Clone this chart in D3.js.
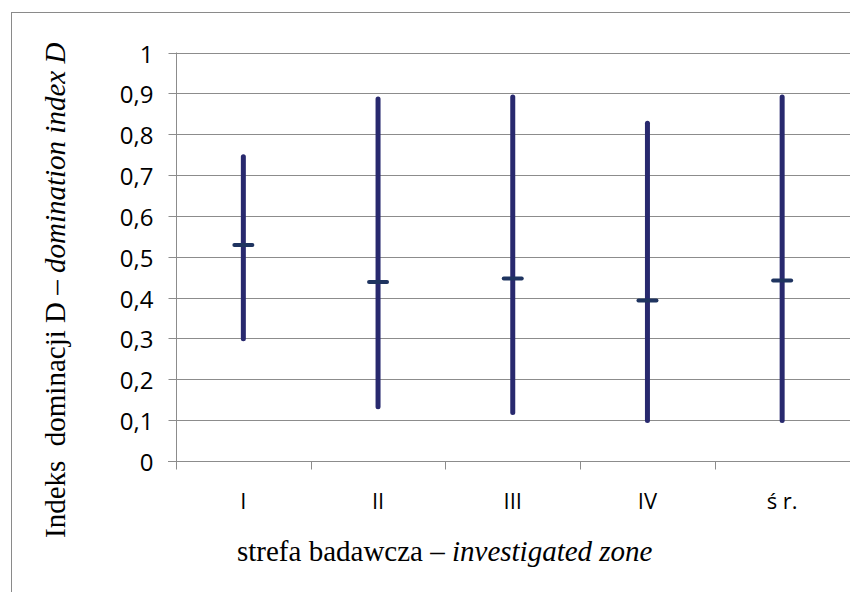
<!DOCTYPE html>
<html>
<head>
<meta charset="utf-8">
<script src="https://cdn.jsdelivr.net/npm/d3@7"></script>
<style>
html,body{margin:0;padding:0;background:#fff;}
svg{display:block;}
</style>
</head>
<body>
<script>
const categories = ["I", "II", "III", "IV", "ś r."];
const maxValues  = [0.745, 0.886, 0.891, 0.827, 0.891];
const minValues  = [0.299, 0.133, 0.119, 0.099, 0.099];
const meanValues = [0.529, 0.438, 0.447, 0.393, 0.442];
const yTickValues = [0, 0.1, 0.2, 0.3, 0.4, 0.5, 0.6, 0.7, 0.8, 0.9, 1];

const W = 850, H = 592;
const svg = d3.select("body").append("svg").attr("width", W).attr("height", H);

// outer chart border
svg.append("rect").attr("x", 11.5).attr("y", 12.5).attr("width", 900).attr("height", 700)
  .attr("fill", "none").attr("stroke", "#8a8a8a").attr("stroke-width", 1);

const x = d3.scaleBand().domain(categories).range([176, 849.5]).padding(0);
const y = d3.scaleLinear().domain([0, 1]).range([461, 52.5]);

const fmt = d => d3.format(".1f")(d).replace(".", ",").replace(/^1,0$/, "1").replace(/^0,0$/, "0");

// gridlines
svg.append("g").selectAll("line").data(yTickValues.filter(d => d > 0)).join("line")
  .attr("x1", 176).attr("x2", 850)
  .attr("y1", d => Math.round(y(d)) + 0.5).attr("y2", d => Math.round(y(d)) + 0.5)
  .attr("stroke", "#8c8c8c").attr("stroke-width", 1);

// y axis
const yAxis = svg.append("g").attr("transform", "translate(176.5,0)")
  .call(d3.axisLeft(y).tickValues(yTickValues).tickFormat(fmt).tickSize(8).tickPadding(15));
yAxis.select(".domain").attr("stroke", "#8c8c8c").attr("d", `M0,${y(1)}V${y(0)}`);
yAxis.selectAll(".tick line").attr("stroke", "#8c8c8c");
yAxis.selectAll(".tick").attr("transform", d => `translate(0,${Math.round(y(d)) + 0.5})`);
yAxis.selectAll("text").attr("font-family", "'Open Sans', sans-serif").attr("font-size", 24)
  .attr("fill", "#000").attr("dy", "0.38em");

// x axis
const xAxis = svg.append("g").attr("transform", `translate(0,${Math.round(y(0)) + 0.5})`);
xAxis.append("line").attr("x1", 168).attr("x2", 850).attr("y1", 0).attr("y2", 0)
  .attr("stroke", "#8c8c8c");
const xBounds = categories.map(c => x(c)).concat([x(categories[categories.length - 1]) + x.bandwidth()]);
xAxis.selectAll("line.xt").data(xBounds).join("line").attr("class", "xt")
  .attr("x1", d => Math.round(d) + 0.5).attr("x2", d => Math.round(d) + 0.5)
  .attr("y1", 0).attr("y2", 8).attr("stroke", "#8c8c8c");
xAxis.selectAll("text").data(categories).join("text")
  .attr("x", d => x(d) + x.bandwidth() / 2).attr("y", 47)
  .attr("text-anchor", "middle").attr("font-family", "'Open Sans', sans-serif").attr("font-size", 22)
  .attr("fill", "#000").style("white-space", "pre").text(d => d);

// range bars
const data = categories.map((c, i) => ({c, max: maxValues[i], min: minValues[i], mean: meanValues[i]}));
svg.append("g").selectAll("line").data(data).join("line")
  .attr("x1", d => x(d.c) + x.bandwidth() / 2).attr("x2", d => x(d.c) + x.bandwidth() / 2)
  .attr("y1", d => y(d.max)).attr("y2", d => y(d.min))
  .attr("stroke", "#28296e").attr("stroke-width", 5).attr("stroke-linecap", "round");
svg.append("g").selectAll("line").data(data).join("line")
  .attr("x1", d => x(d.c) + x.bandwidth() / 2 - 9).attr("x2", d => x(d.c) + x.bandwidth() / 2 + 9)
  .attr("y1", d => y(d.mean)).attr("y2", d => y(d.mean))
  .attr("stroke", "#1f3460").attr("stroke-width", 4).attr("stroke-linecap", "round");

// axis titles
const xt = svg.append("text").attr("x", 237).attr("y", 561)
  .attr("font-family", "'Liberation Serif', 'Times New Roman', serif").attr("font-size", 29).attr("fill", "#000");
xt.append("tspan").text("strefa badawcza – ");
xt.append("tspan").attr("font-style", "italic").text("investigated zone");

const yt = svg.append("text").attr("transform", "translate(65,538) rotate(-90)")
  .attr("font-family", "'Liberation Serif', 'Times New Roman', serif").attr("font-size", 29).attr("fill", "#000")
  .style("white-space", "pre");
yt.append("tspan").text("Indeks  dominacji D – ");
yt.append("tspan").attr("font-style", "italic").text("domination index D");
</script>
</body>
</html>
